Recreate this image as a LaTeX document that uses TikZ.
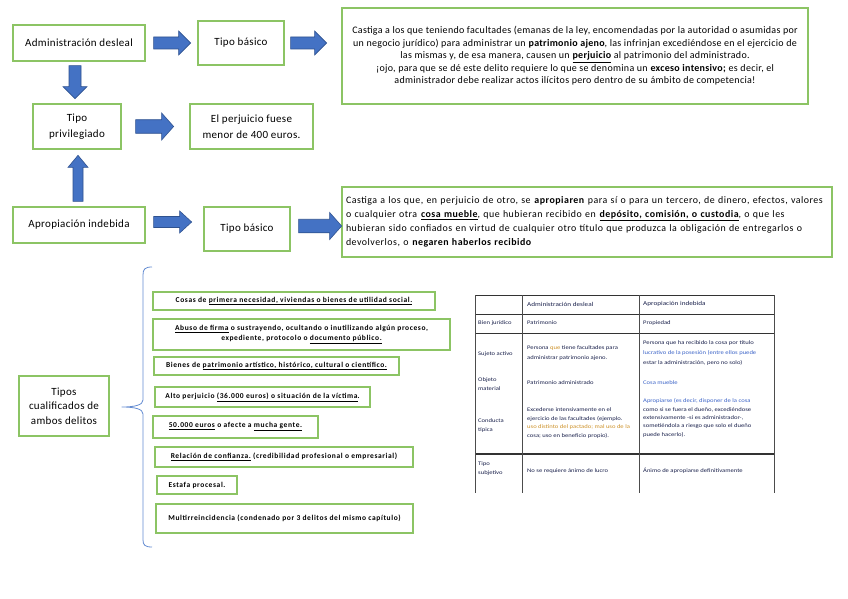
\documentclass[tikz,border=0pt]{standalone}
\usepackage{fontspec}
\setmainfont{Carlito}
\newfontfamily\labelfont[LetterSpace=3]{Carlito}
\newfontfamily\wideletters[LetterSpace=5]{Carlito}
\newfontfamily\itemfont[LetterSpace=8]{Carlito}
\newfontfamily\tabfont[FakeStretch=1.2]{Carlito}
\usetikzlibrary{calc,positioning}
\definecolor{boxgreen}{RGB}{140,196,100}
\definecolor{arrowblue}{RGB}{68,114,196}
\definecolor{arrowedge}{RGB}{47,82,143}
\definecolor{bracecol}{RGB}{100,140,210}
\definecolor{tabtext}{RGB}{25,32,75}
\definecolor{taborange}{RGB}{205,145,40}
\definecolor{tabblue}{RGB}{60,100,200}

\begin{document}
\begin{tikzpicture}[x=1pt,y=-1pt,
  box/.style={draw=boxgreen,line width=1.3pt,fill=white,inner sep=0pt,align=center,font=\labelfont\fontsize{11}{15.5}\selectfont},
  textbox/.style={box,font=\labelfont\fontsize{10}{12.5}\selectfont},
  itembox/.style={box,font=\itemfont\fontsize{7.5}{10}\selectfont\bfseries},
  tabcell/.style={anchor=west,align=left,inner sep=0pt,text=tabtext,font=\tabfont\fontsize{5.5}{9}\selectfont},
  pics/barrow/.style 2 args={code={\draw[fill=arrowblue,draw=arrowedge,line width=0.6pt]
    (0,-#2/4) -- (#1-12,-#2/4) -- (#1-12,-#2/2) -- (#1,0) -- (#1-12,#2/2) -- (#1-12,#2/4) -- (0,#2/4) -- cycle;}}]

  \fill[white] (0,0) rectangle (848,599);
  \useasboundingbox (0,0) rectangle (848,599);

  \node[box,minimum width=132,minimum height=36] (ad) at (79,43) {Administración desleal};
  \node[box,minimum width=86,minimum height=44] (tb1) at (241,43) {Tipo básico};
  \node[textbox,minimum width=466,minimum height=96] (def1) at (575,56)
    {Castiga a los que teniendo facultades (emanas de la ley, encomendadas por la autoridad o asumidas por\\
     un negocio jurídico) para administrar un \textbf{patrimonio ajeno}, las infrinjan excediéndose en el ejercicio de\\
     las mismas y, de esa manera, causen un \textbf{\underline{perjuicio}} al patrimonio del administrado.\\
     ¡ojo, para que se dé este delito requiere lo que se denomina un \textbf{exceso intensivo;} es decir, el\\
     administrador debe realizar actos ilícitos pero dentro de su ámbito de competencia!};
  \node[box,minimum width=88,minimum height=45] (tp) at (77,126.5) {Tipo\\privilegiado};
  \node[box,minimum width=123,minimum height=45] (menor) at (251.5,126.5) {El perjuicio fuese\\menor de 400 euros.};
  \node[box,minimum width=132,minimum height=36] (ai) at (79,225) {Apropiación indebida};
  \node[box,minimum width=86,minimum height=44] (tb2) at (247,229) {Tipo básico};
  \node[textbox,minimum width=490,minimum height=70,text width=482,align=left,font=\wideletters\fontsize{9.9}{13.8}\selectfont] (def2) at (587,222)
    {Castiga a los que, en perjuicio de otro, se \textbf{apropiaren} para sí o para un tercero, de dinero, efectos, valores\\
     o cualquier otra \textbf{\underline{cosa mueble}}, que hubieran recibido en \textbf{\underline{depósito, comisión, o custodia}}, o que les\\
     hubieran sido confiados en virtud de cualquier otro título que produzca la obligación de entregarlos o\\
     devolverlos, o \textbf{negaren haberlos recibido}};

  \pic at ($(ad.east)+(8,0)$) {barrow={37}{24}};
  \pic at ($(tb1.east)+(6,0)$) {barrow={36}{24}};
  \pic[rotate=-90] at ($(ad.south)+(-4,4)$) {barrow={33}{24}};
  \pic at ($(tp.east)+(14,0)$) {barrow={38}{27}};
  \pic[rotate=90] at ($(ai.north)+(-1,-5)$) {barrow={46}{20}};
  \pic at ($(ai.east)+(8,-3)$) {barrow={38}{22}};
  \pic at ($(tb2.east)+(8,-3)$) {barrow={43}{27}};

  \node[box,minimum width=90,minimum height=60,font=\labelfont\fontsize{11}{14.5}\selectfont] (tc) at (64,406) {Tipos\\cualificados de\\ambos delitos};
  \coordinate (tip) at ($(tc.east)+(12,1)$);
  \draw[bracecol,line width=0.8pt] (152,267) .. controls (145,267) and (143,269) .. (143,275) -- (143,400)
    .. controls (143,405) and (135,407) .. (tip) .. controls (135,407) and (143,409) .. (143,414) -- (143,540)
    .. controls (143,545) and (145,547) .. (152,547);

  \node[itembox,minimum width=282,minimum height=18] (i1) at (294,301) {Cosas de \underline{primera necesidad, viviendas o bienes de utilidad social.}};
  \node[itembox,minimum width=297,minimum height=31] (i2) at (301.5,334.5) {\underline{Abuso de firma} o sustrayendo, ocultando o inutilizando algún proceso,\\expediente, protocolo o \underline{documento público.}};
  \node[itembox,minimum width=245,minimum height=18] (i3) at (276.5,366) {Bienes de \underline{patrimonio artístico, histórico, cultural o científico.}};
  \node[itembox,minimum width=215,minimum height=20] (i4) at (262.5,397) {Alto perjuicio \underline{(36.000 euros) o situación de la víctima}.};
  \node[itembox,minimum width=165,minimum height=22] (i5) at (235.5,427) {\underline{50.000 euros} o afecte a \underline{mucha gente.}};
  \node[itembox,minimum width=258,minimum height=20] (i6) at (284,457) {\underline{Relación de confianza.} (credibilidad profesional o empresarial)};
  \node[itembox,minimum width=80,minimum height=18] (i7) at (197,485) {Estafa procesal.};
  \node[itembox,minimum width=257,minimum height=29] (i8) at (284.5,518.5) {Multirreincidencia (condenado por 3 delitos del mismo capítulo)};

  \draw[black!80,line width=1pt] (475,295) -- (774,295) (475,314) -- (774,314) (475,333) -- (774,333);
  \draw[black!80,line width=1.6pt] (475,454) -- (774,454);
  \draw[black!70,line width=1pt] (475,295) -- (475,493) (522,295) -- (522,493) (639,295) -- (639,493) (774,295) -- (774,493);
  \node[tabcell,font=\tabfont\fontsize{6}{9}\selectfont] (h1) at (527,304) {Administración desleal};
  \node[tabcell,font=\tabfont\fontsize{6}{9}\selectfont] (h2) at (643,304) {Apropiación indebida};
  \node[tabcell] (r1) at (478,323) {Bien jurídico};
  \node[tabcell] (r1a) at (527,323) {Patrimonio};
  \node[tabcell] (r1b) at (643,323) {Propiedad};
  \node[tabcell] (r2) at (478,354) {Sujeto activo};
  \node[tabcell,font=\tabfont\fontsize{5.5}{10}\selectfont] (r2a) at (527,353) {Persona \textcolor{taborange}{que} tiene facultades para\\administrar patrimonio ajeno.};
  \node[tabcell,font=\tabfont\fontsize{5.5}{10}\selectfont] (r2b) at (643,353) {Persona que ha recibido la cosa por título\\\textcolor{tabblue}{lucrativo de la posesión (entre ellos puede}\\estar la administración, pero no solo)};
  \node[tabcell] (r3) at (478,384) {Objeto\\material};
  \node[tabcell] (r3a) at (527,383) {Patrimonio administrado};
  \node[tabcell,text=tabblue] (r3b) at (643,383) {Cosa mueble};
  \node[tabcell] (r4) at (478,426) {Conducta\\típica};
  \node[tabcell,font=\tabfont\fontsize{5.5}{8.7}\selectfont] (r4a) at (527,423) {Excederse intensivamente en el\\ejercicio de las facultades (ejemplo.\\\textcolor{taborange}{uso distinto del pactado; mal uso de la}\\cosa; uso en beneficio propio).};
  \node[tabcell,font=\tabfont\fontsize{5.5}{8.3}\selectfont] (r4b) at (643,418) {\textcolor{tabblue}{Apropiarse (es decir, disponer de la cosa}\\como si se fuera el dueño, excediéndose\\extensivamente -si es administrador-,\\sometiéndola a riesgo que solo el dueño\\puede hacerlo).};
  \node[tabcell] (r5) at (478,469) {Tipo\\subjetivo};
  \node[tabcell] (r5a) at (527,471) {No se requiere ánimo de lucro};
  \node[tabcell] (r5b) at (643,471) {Ánimo de apropiarse definitivamente};
\end{tikzpicture}
\end{document}
